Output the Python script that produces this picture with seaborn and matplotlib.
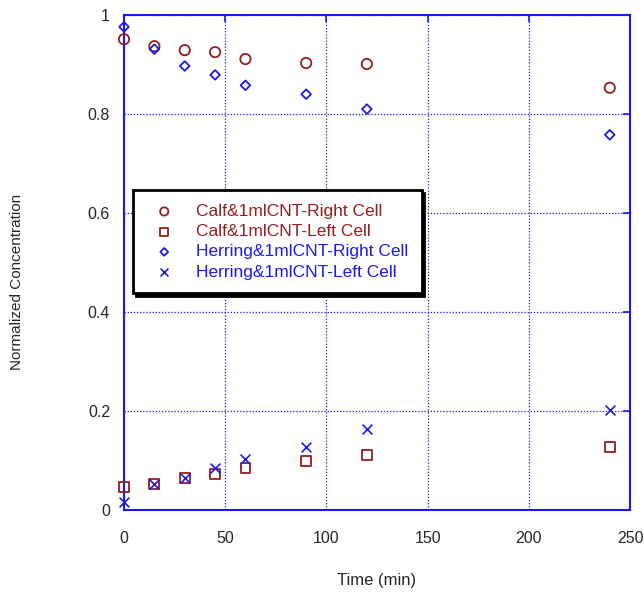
import matplotlib
matplotlib.use("Agg")
import matplotlib.pyplot as plt
import seaborn as sns
import pandas as pd

# time points (min)
time = [0, 15, 30, 45, 60, 90, 120, 240]

calf_right = [0.951, 0.937, 0.929, 0.925, 0.911, 0.903, 0.901, 0.853]
calf_left = [0.046, 0.052, 0.065, 0.073, 0.085, 0.099, 0.111, 0.127]
herring_right = [0.976, 0.931, 0.897, 0.879, 0.858, 0.840, 0.810, 0.758]
herring_left = [0.016, 0.052, 0.065, 0.085, 0.103, 0.127, 0.163, 0.202]

labels = ["Calf&1mlCNT-Right Cell", "Calf&1mlCNT-Left Cell",
          "Herring&1mlCNT-Right Cell", "Herring&1mlCNT-Left Cell"]

red = "#991c1c"
blue = "#1a1aee"

sns.set_style("white")
plt.rcParams["font.family"] = ["Liberation Sans", "DejaVu Sans"]

fig = plt.figure(figsize=(6.44, 5.95), dpi=100)
ax = fig.add_axes([124 / 644, 85 / 595, 506 / 644, 495 / 595])

series = [
    (calf_right, "o", red, 55),
    (calf_left, "s", red, 50),
    (herring_right, "D", blue, 24),
    (herring_left, "x", blue, 50),
]

for (vals, mk, col, sz), lab in zip(series, labels):
    df = pd.DataFrame({"Time": time, "Conc": vals})
    if mk == "x":
        sns.scatterplot(data=df, x="Time", y="Conc", marker=mk, color=col,
                        s=sz, linewidth=1.2, ax=ax, label=lab, clip_on=False,
                        zorder=3)
    else:
        sns.scatterplot(data=df, x="Time", y="Conc", marker=mk, facecolor="none",
                        edgecolor=col, s=sz, linewidth=1.3, ax=ax, label=lab,
                        clip_on=False, zorder=3)

ax.set_xlim(0, 250)
ax.set_ylim(0, 1)
ax.set_xticks([0, 50, 100, 150, 200, 250])
ax.set_yticks([0, 0.2, 0.4, 0.6, 0.8, 1])
ax.set_yticklabels(["0", "0.2", "0.4", "0.6", "0.8", "1"])

ax.grid(True, color=blue, linestyle=(0, (1, 1.5)), linewidth=0.9)
for s in ax.spines.values():
    s.set_color(blue)
    s.set_linewidth(1.5)
ax.tick_params(direction="in", length=5, width=1.2, color=blue,
               top=True, right=True, labelsize=11.5, pad=10)
ax.tick_params(axis="x", pad=15)

ax.set_xlabel("Time (min)", fontsize=12)
ax.set_ylabel("Normalized Concentration", fontsize=11)
ax.xaxis.set_label_coords(0.5, -0.128)
ax.yaxis.set_label_coords(-0.198, 0.46)

leg = ax.legend(loc="upper left", bbox_to_anchor=(133 / 644, 1 - 190 / 595),
                bbox_transform=fig.transFigure, fontsize=12.5, frameon=True,
                fancybox=False, shadow={"color": "black", "alpha": 1},
                borderpad=0.8, labelspacing=0.29, handletextpad=0.8,
                borderaxespad=0, markerscale=0.8)
leg.get_frame().set_edgecolor("black")
leg.get_frame().set_linewidth(2)
for txt, c in zip(leg.get_texts(), [red, red, blue, blue]):
    txt.set_color(c)

fig.savefig("out.png", dpi=100)
